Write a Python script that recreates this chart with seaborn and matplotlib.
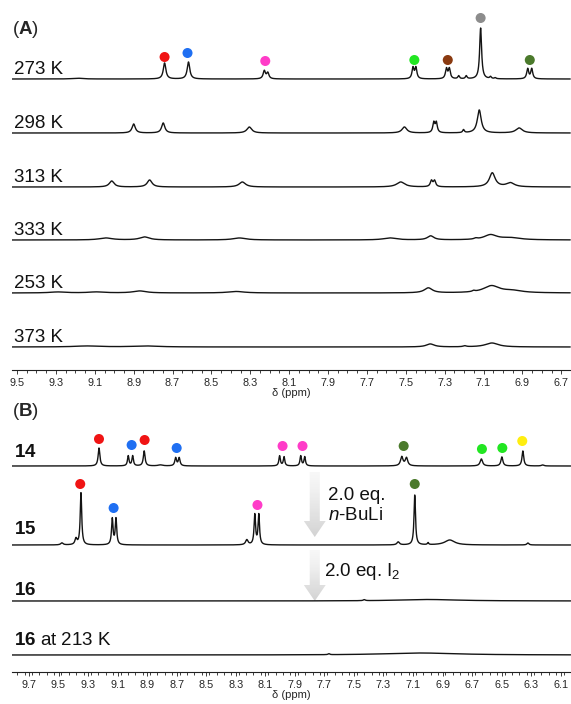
import numpy as np
import matplotlib
matplotlib.use("Agg")
import matplotlib.pyplot as plt
import seaborn as sns
from matplotlib.patches import Polygon
from matplotlib.transforms import blended_transform_factory

# ---------------- data ----------------
# panel A : variable temperature spectra, peak lists (ppm, height px, half width ppm)
A_labels = ["273 K", "298 K", "313 K", "333 K", "253 K", "373 K"]

A_273_ppm = [9.19, 8.741, 8.618, 8.228, 8.210, 7.463, 7.448, 7.291, 7.276, 7.228, 7.189, 7.115, 7.064, 7.040, 6.873, 6.852]
A_273_h   = [0.8, 16, 17, 8, 6, 11, 11, 10, 10, 3, 3, 51, 2, 1, 10, 10]
A_273_w   = [0.03, 0.008, 0.008, 0.007, 0.007, 0.006, 0.006, 0.006, 0.006, 0.005, 0.005, 0.006, 0.005, 0.005, 0.006, 0.006]

A_298_ppm = [8.900, 8.748, 8.305, 7.507, 7.356, 7.343, 7.203, 7.122, 6.917]
A_298_h   = [9, 10, 6, 6, 10, 10, 3, 23, 5]
A_298_w   = [0.010, 0.010, 0.015, 0.015, 0.006, 0.006, 0.005, 0.012, 0.020]

A_313_ppm = [9.013, 8.818, 8.341, 7.526, 7.368, 7.352, 7.055, 6.962]
A_313_h   = [6, 7, 5, 5, 6, 6, 14, 4]
A_313_w   = [0.015, 0.015, 0.020, 0.025, 0.007, 0.007, 0.018, 0.025]

A_333_ppm = [9.044, 8.844, 8.356, 7.582, 7.372, 7.140, 7.064, 6.960]
A_333_h   = [2, 3, 2, 2, 4, 1, 5, 2]
A_333_w   = [0.04, 0.03, 0.04, 0.04, 0.02, 0.01, 0.04, 0.06]

A_253_ppm = [9.290, 9.092, 8.869, 8.373, 7.384, 7.151, 7.059, 6.950]
A_253_h   = [1, 1, 2, 1.5, 5, 1, 7, 2]
A_253_w   = [0.05, 0.05, 0.04, 0.05, 0.025, 0.008, 0.05, 0.06]

A_373_ppm = [9.140, 8.838, 7.374, 7.197, 7.057]
A_373_h   = [1, 1, 3, 1, 4]
A_373_w   = [0.08, 0.08, 0.025, 0.01, 0.04]

# coloured assignment dots of the 273 K trace (ppm, height above baseline px)
A_dot_ppm = [8.741, 8.623, 8.223, 7.456, 7.284, 7.115, 6.862]
A_dot_h   = [22, 26, 18, 19, 19, 61, 19]
A_dot_col = ["red", "blue", "pink", "lime", "brown", "gray", "olive"]

# panel B : compounds 14, 15, 16
B_labels = [r"$\mathbf{14}$", r"$\mathbf{15}$", r"$\mathbf{16}$", r"$\mathbf{16}$ at 213 K"]

B_14_ppm = [9.226, 9.028, 8.998, 8.920, 8.810, 8.707, 8.683, 8.003, 7.973, 7.860, 7.833, 7.176, 7.144, 6.637, 6.498, 6.356, 6.222]
B_14_h   = [18, 10, 10, 15, 1, 8, 8, 10, 9, 10, 9, 9, 8, 7, 9, 15, 1]
B_14_w   = [0.007, 0.006, 0.006, 0.007, 0.02, 0.007, 0.007, 0.006, 0.006, 0.006, 0.006, 0.010, 0.010, 0.010, 0.008, 0.007, 0.01]

B_15_ppm = [9.477, 9.382, 9.348, 9.136, 9.111, 8.225, 8.171, 8.144, 7.200, 7.088, 6.998, 6.851, 6.322]
B_15_h   = [2, 6, 52, 26, 26, 5, 30, 30, 3, 50, 2, 5, 2]
B_15_w   = [0.01, 0.008, 0.006, 0.006, 0.006, 0.01, 0.006, 0.006, 0.01, 0.006, 0.005, 0.04, 0.008]

B_16_ppm = [7.430, 7.000]
B_16_h   = [1, 1.5]
B_16_w   = [0.008, 0.25]

B_16c_ppm = [7.670, 7.050]
B_16c_h   = [1, 2]
B_16c_w   = [0.006, 0.3]

B_14_dot_ppm = [9.226, 9.005, 8.917, 8.700, 7.983, 7.848, 7.163, 6.633, 6.495, 6.360]
B_14_dot_h   = [27, 21, 26, 18, 20, 20, 20, 17, 18, 25]
B_14_dot_col = ["red", "blue", "red", "blue", "pink", "pink", "olive", "lime", "lime", "yellow"]

B_15_dot_ppm = [9.353, 9.127, 8.153, 7.088]
B_15_dot_h   = [61, 37, 40, 61]
B_15_dot_col = ["red", "blue", "pink", "olive"]

A_ticks = np.round(np.arange(9.5, 6.69, -0.2), 1)
B_ticks = np.round(np.arange(9.7, 6.09, -0.2), 1)

PALETTE = {"red": "#f01414", "blue": "#1f6ff2", "pink": "#ff3cc8", "lime": "#22e622",
           "brown": "#8a3a10", "gray": "#8c8c8c", "olive": "#4b7a2c", "yellow": "#ffee10"}

# ---------------- layout ----------------
W, H = 571, 704
sns.set_theme(style="white")
plt.rcParams["font.family"] = ["Liberation Sans", "DejaVu Sans"]
plt.rcParams["mathtext.fontset"] = "custom"
plt.rcParams["mathtext.rm"] = "Liberation Sans"
plt.rcParams["mathtext.bf"] = "Liberation Sans:bold"
plt.rcParams["mathtext.it"] = "Liberation Sans:italic"

fig = plt.figure(figsize=(W / 100, H / 100), dpi=100)
axA = fig.add_axes([12 / W, 1 - 370 / H, 1 - 12 / W, 370 / H])
axB = fig.add_axes([12 / W, 1 - 672 / H, 1 - 12 / W, 272 / H])

A_lim = (9.526, 6.654)
B_lim = (9.815, 6.032)
A_base = [291, 237, 183, 130, 77, 23]
B_base = [206, 127, 71, 17]

LINE = "#141414"


def lorentz(x, ppm, h, w):
    y = np.zeros_like(x)
    for p, a, g in zip(ppm, h, w):
        y += a * g ** 2 / ((x - p) ** 2 + g ** 2)
    return y


def draw_spectra(ax, lim, peaks, bases):
    x = np.linspace(lim[0], lim[1], 5000)
    for (ppm, h, w), b in zip(peaks, bases):
        sns.lineplot(x=x, y=b + lorentz(x, ppm, h, w), ax=ax, color=LINE,
                     lw=1.0, estimator=None, sort=False)


def draw_dots(ax, ppm, h, cols, base):
    sns.scatterplot(x=ppm, y=np.array(h) + base, hue=cols, palette=PALETTE,
                    legend=False, s=52, edgecolor="none", ax=ax, zorder=5, clip_on=False)


def style_axis(ax, lim, ytop, ticks):
    ax.set_xlim(*lim)
    ax.set_ylim(0, ytop)
    for s in ["left", "right", "top"]:
        ax.spines[s].set_visible(False)
    ax.spines["bottom"].set_color("#202020")
    ax.spines["bottom"].set_linewidth(0.8)
    ax.set_yticks([])
    ax.set_xticks(ticks)
    ax.set_xticklabels([f"{t:.1f}" for t in ticks])
    ax.set_xticks(np.arange(lim[1], lim[0], 0.05).round(2), minor=True)
    ax.tick_params(axis="x", which="both", bottom=True, direction="out",
                   width=0.6, color="#202020", labelsize=7.8, pad=3)
    ax.tick_params(axis="x", which="major", length=3)
    ax.tick_params(axis="x", which="minor", length=2)
    ax.set_xlabel("δ (ppm)", fontsize=8, labelpad=0)
    ax.set_ylabel("")
    ax.patch.set_alpha(0)


def grad_arrow(ax, xc, y_top, y_neck, y_tip, half_shaft, half_head):
    verts = [(xc - half_shaft, y_top), (xc + half_shaft, y_top), (xc + half_shaft, y_neck),
             (xc + half_head, y_neck), (xc, y_tip), (xc - half_head, y_neck), (xc - half_shaft, y_neck)]
    poly = Polygon(verts, closed=True, facecolor="none", edgecolor="none")
    ax.add_patch(poly)
    grad = np.linspace(0.28, 0.06, 64).reshape(-1, 1)
    im = ax.imshow(grad, cmap="Greys", vmin=0, vmax=1, aspect="auto", origin="lower",
                   extent=(xc + half_head, xc - half_head, y_tip, y_top), zorder=1)
    im.set_clip_path(poly)


# ---------------- panel A ----------------
draw_spectra(axA, A_lim,
             [(A_273_ppm, A_273_h, A_273_w), (A_298_ppm, A_298_h, A_298_w),
              (A_313_ppm, A_313_h, A_313_w), (A_333_ppm, A_333_h, A_333_w),
              (A_253_ppm, A_253_h, A_253_w), (A_373_ppm, A_373_h, A_373_w)], A_base)
draw_dots(axA, A_dot_ppm, A_dot_h, A_dot_col, A_base[0])
style_axis(axA, A_lim, 370, A_ticks)
trA = blended_transform_factory(axA.transAxes, axA.transData)
for lab, b in zip(A_labels, A_base):
    axA.text(0.004, b + 5, lab, transform=trA, fontsize=13.5, va="baseline", ha="left", color="#111111")

# ---------------- panel B ----------------
draw_spectra(axB, B_lim,
             [(B_14_ppm, B_14_h, B_14_w), (B_15_ppm, B_15_h, B_15_w),
              (B_16_ppm, B_16_h, B_16_w), (B_16c_ppm, B_16c_h, B_16c_w)], B_base)
draw_dots(axB, B_14_dot_ppm, B_14_dot_h, B_14_dot_col, B_base[0])
draw_dots(axB, B_15_dot_ppm, B_15_dot_h, B_15_dot_col, B_base[1])
trB = blended_transform_factory(axB.transAxes, axB.transData)
for lab, b, dy in zip(B_labels, B_base, [9, 11, 6, 10]):
    axB.text(0.004, b + dy, lab, transform=trB, fontsize=13.5, va="baseline", ha="left", color="#111111")

grad_arrow(axB, 7.765, 200, 151, 135, 0.034, 0.074)
grad_arrow(axB, 7.765, 122, 87, 71, 0.034, 0.074)
axB.text(7.677, 177, "2.0 eq.", fontsize=13.5, va="center", ha="left", color="#111111")
axB.text(7.677, 157, r"$n$-BuLi", fontsize=13.5, va="center", ha="left", color="#111111")
axB.text(7.700, 100, r"2.0 eq. I$_2$", fontsize=13.5, va="center", ha="left", color="#111111")
style_axis(axB, B_lim, 272, B_ticks)

fig.text(12 / W, 1 - 30 / H, r"($\mathbf{A}$)", fontsize=13.5, va="center", ha="left")
fig.text(12 / W, 1 - 412 / H, r"($\mathbf{B}$)", fontsize=13.5, va="center", ha="left")

fig.savefig("out.png", dpi=100)
